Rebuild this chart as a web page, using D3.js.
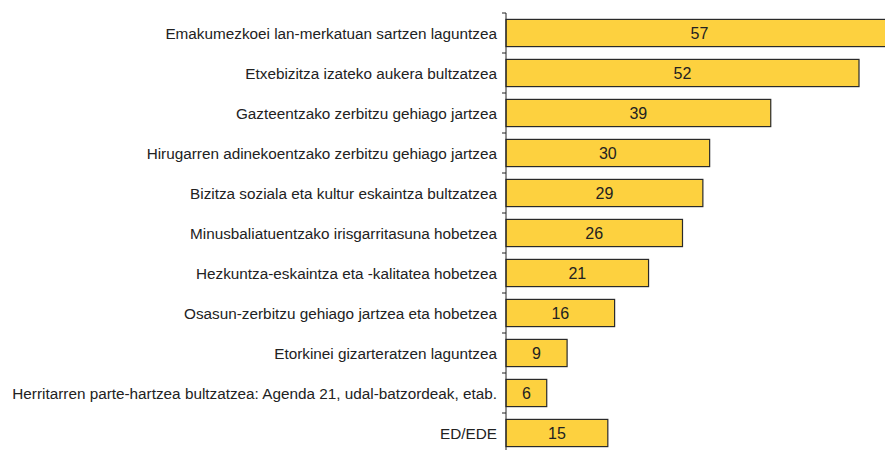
<!DOCTYPE html>
<html>
<head>
<meta charset="utf-8">
<script src="https://cdn.jsdelivr.net/npm/d3@7"></script>
<style>
body { margin: 0; background: #fff; }
svg { display: block; font-family: "Liberation Sans", Arial, sans-serif; }
.label { font-size: 15.3px; fill: #222; }
.val { font-size: 16px; fill: #222; }
.axis path, .axis line { stroke: #222; }
</style>
</head>
<body>
<svg width="885" height="450"></svg>
<script>
var categories = [
    "Emakumezkoei lan-merkatuan sartzen laguntzea",
    "Etxebizitza izateko aukera bultzatzea",
    "Gazteentzako zerbitzu gehiago jartzea",
    "Hirugarren adinekoentzako zerbitzu gehiago jartzea",
    "Bizitza soziala eta kultur eskaintza bultzatzea",
    "Minusbaliatuentzako irisgarritasuna hobetzea",
    "Hezkuntza-eskaintza eta -kalitatea hobetzea",
    "Osasun-zerbitzu gehiago jartzea eta hobetzea",
    "Etorkinei gizarteratzen laguntzea",
    "Herritarren parte-hartzea bultzatzea: Agenda 21, udal-batzordeak, etab.",
    "ED/EDE"
];
var values = [57, 52, 39, 30, 29, 26, 21, 16, 9, 6, 15];

var svg = d3.select("svg"),
    margin = {top: 13, left: 506},
    chartH = 440;

var g = svg.append("g").attr("transform", "translate(" + margin.left + "," + margin.top + ")");

var x = d3.scaleLinear()
    .domain([0, 52])
    .range([0, 353]);

var y = d3.scaleBand()
    .domain(categories)
    .range([0, chartH])
    .paddingInner(0.32)
    .paddingOuter(0.16);

// bars
g.selectAll("rect.bar")
    .data(values)
    .enter().append("rect")
    .attr("class", "bar")
    .attr("x", 0)
    .attr("y", function(d, i) { return y(categories[i]); })
    .attr("width", function(d) { return x(d); })
    .attr("height", y.bandwidth())
    .attr("fill", "#fdd13f")
    .attr("stroke", "#2a2a2a")
    .attr("stroke-width", 1.2);

// values inside bars
g.selectAll("text.val")
    .data(values)
    .enter().append("text")
    .attr("class", "val")
    .attr("x", function(d) { return x(d) / 2; })
    .attr("y", function(d, i) { return y(categories[i]) + y.bandwidth() / 2; })
    .attr("dy", "0.36em")
    .attr("text-anchor", "middle")
    .text(function(d) { return d; });

// category axis: ticks sit between the bands
var axis = g.append("g").attr("class", "axis");
axis.append("line")
    .attr("x1", 0).attr("x2", 0)
    .attr("y1", 0).attr("y2", chartH);
axis.selectAll("line.tick")
    .data(d3.range(categories.length + 1))
    .enter().append("line")
    .attr("class", "tick")
    .attr("x1", -4).attr("x2", 0)
    .attr("y1", function(i) { return i * y.step() - y.step() * y.paddingInner() / 2 + y.step() * y.paddingOuter(); })
    .attr("y2", function(i) { return i * y.step() - y.step() * y.paddingInner() / 2 + y.step() * y.paddingOuter(); });

g.selectAll("text.label")
    .data(categories)
    .enter().append("text")
    .attr("class", "label")
    .attr("x", -9)
    .attr("y", function(d) { return y(d) + y.bandwidth() / 2; })
    .attr("dy", "0.36em")
    .attr("text-anchor", "end")
    .text(function(d) { return d; });
</script>
</body>
</html>
